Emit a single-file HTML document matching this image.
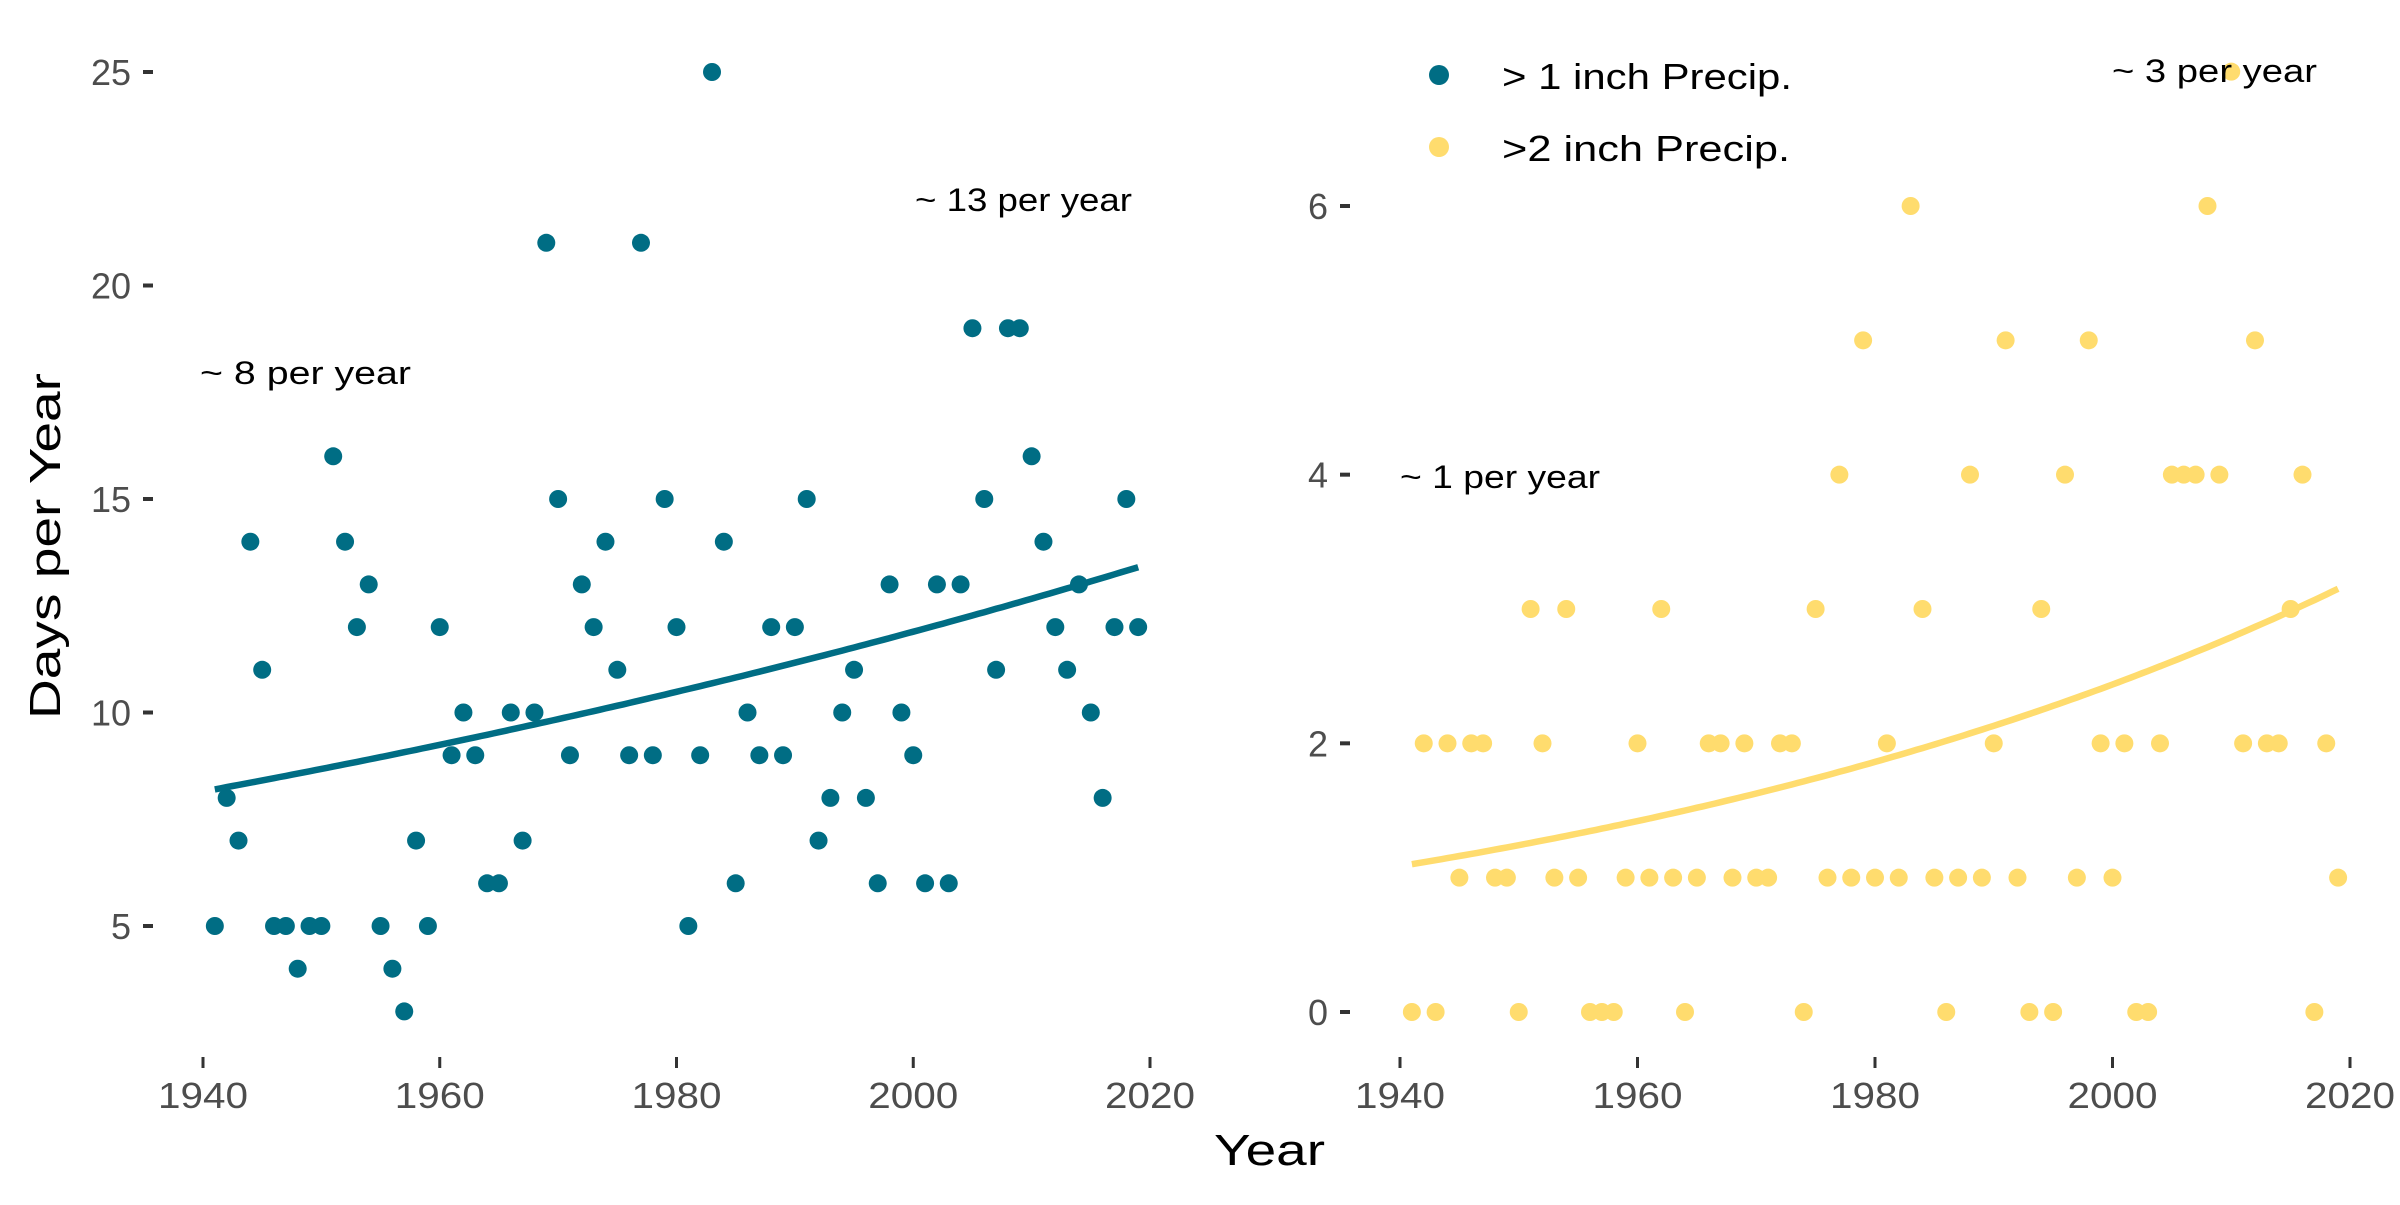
<!DOCTYPE html>
<html><head><meta charset="utf-8"><style>
html,body{margin:0;padding:0;background:#fff;}
svg text{font-family:"Liberation Sans",sans-serif;}
</style></head><body>
<svg id="chart" width="2400" height="1200" xmlns="http://www.w3.org/2000/svg">
<rect width="2400" height="1200" fill="#fff"/>
<g id="left"></g>
<g id="right"></g>
<text x="1214" y="1165" font-size="44" textLength="111" lengthAdjust="spacingAndGlyphs" fill="#000">Year</text>
<text transform="translate(60,546) rotate(-90)" x="-173" y="0" font-size="44" textLength="346" lengthAdjust="spacingAndGlyphs" fill="#000">Days per Year</text>
<g>
<circle cx="1439" cy="75" r="10" fill="#006d84"/>
<text x="1502" y="89" font-size="36" textLength="290" lengthAdjust="spacingAndGlyphs" fill="#000">&gt; 1 inch Precip.</text>
<circle cx="1439" cy="147" r="10" fill="#ffdc6e"/>
<text x="1502" y="161" font-size="36" textLength="288" lengthAdjust="spacingAndGlyphs" fill="#000">&gt;2 inch Precip.</text>
</g>
</svg>
<script>
const years=[];for(let y=1941;y<=2019;y++)years.push(y);
const oneInch=[5,8,7,14,11,5,5,4,5,5,16,14,12,13,5,4,3,7,5,12,9,10,9,6,6,10,7,10,21,15,9,13,12,14,11,9,21,9,15,12,5,9,25,14,6,10,9,12,9,12,15,7,8,10,11,8,6,13,10,9,6,13,6,13,19,15,11,19,19,16,14,12,11,13,10,8,12,15,12];
const twoInch=[0,2,0,2,1,2,2,1,1,0,3,2,1,3,1,0,0,0,1,2,1,3,1,0,1,2,2,1,2,1,1,2,2,0,3,1,4,1,5,1,2,1,6,3,1,0,1,4,1,2,5,1,0,3,0,4,1,5,2,1,2,0,0,2,4,4,4,6,4,7,2,5,2,2,3,4,0,2,1];
const xTicks=[1940,1960,1980,2000,2020];
const leftYTicks=[5,10,15,20,25];
const rightYTicks=[0,2,4,6];
const leftTrend=[8.2,0.0063];   // start value at 1941, exponential rate
const rightTrend=[1.1,0.01349];
const NS="http://www.w3.org/2000/svg";
function mk(parent,tag,attrs,txt){const e=document.createElementNS(NS,tag);for(const k in attrs)e.setAttribute(k,attrs[k]);if(txt!==undefined)e.textContent=txt;parent.appendChild(e);return e;}
function panel(g,x0,x1,yv0,yp0,yv1,yp1,vals,yt,trend,color,name,axOff){
  const sx=v=>x0+(v-1940)*(x1-x0)/80;
  const sy=v=>yp0+(v-yv0)*(yp1-yp0)/(yv1-yv0);
  xTicks.forEach(t=>{
    const l=mk(g,'line',{x1:sx(t),x2:sx(t),y1:1057,y2:1068,stroke:'#333','stroke-width':3});
    
    
    const tx=mk(g,'text',{x:sx(t)-45,y:1108,'font-size':36,fill:'#4d4d4d',textLength:90,lengthAdjust:'spacingAndGlyphs'},t);
    
    
  });
  const axX=x0-axOff;
  yt.forEach(t=>{
    const l=mk(g,'line',{x1:axX+12,x2:axX+22,y1:sy(t),y2:sy(t),stroke:'#333','stroke-width':4});
    
    
    const tx=mk(g,'text',{x:axX,y:sy(t)+13,'font-size':36,fill:'#4d4d4d','text-anchor':'end'},t);
    
    
  });
  vals.forEach((v,i)=>{
    const c=mk(g,'circle',{cx:sx(years[i]),cy:sy(v),r:9,fill:color});
    
    
  });
  let d='';
  for(let y=1941;y<=2019;y+=0.5){const v=trend[0]*Math.exp(trend[1]*(y-1941));d+=(d?'L':'M')+sx(y).toFixed(1)+','+sy(v).toFixed(1);}
  const p=mk(g,'path',{d:d,fill:'none',stroke:color,'stroke-width':6.5});
  
  
}
panel(document.getElementById('left'),203,1150,5,926,25,72,oneInch,leftYTicks,leftTrend,'#006d84','left',72);
panel(document.getElementById('right'),1400,2350,0,1012,6,206,twoInch,rightYTicks,rightTrend,'#ffdc6e','right',72);
const ann=[["~ 8 per year",200,384,211],["~ 13 per year",915,211,217],["~ 1 per year",1400,488,200],["~ 3 per year",2112,82,205]];
const svg=document.getElementById('chart');
ann.forEach(a=>{
  const t=mk(svg,'text',{x:a[1],y:a[2],'font-size':32,fill:'#000',textLength:a[3],lengthAdjust:'spacingAndGlyphs'},a[0]);
  
  
});
</script>
</body></html>
